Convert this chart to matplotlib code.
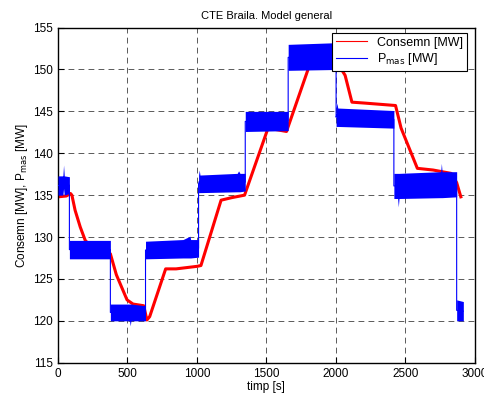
import matplotlib.pyplot as plt
import numpy as np

# P_mas envelope: time [s], lower and upper edge of the noisy band [MW]
pmas_t = [0, 35, 40, 45, 82,
          82, 377,
          377, 515, 520, 525, 630,
          630, 900, 950, 955, 1012,
          1012, 1017, 1022, 1290, 1300, 1310, 1348,
          1348, 1657,
          1657, 2002,
          2002, 2008, 2014, 2418,
          2418, 2445, 2450, 2455, 2755, 2760, 2765, 2870,
          2870, 2918]
pmas_lo = [135.0, 135.0, 135.8, 135.0, 135.2,
           127.4, 127.4,
           120.0, 120.0, 119.4, 120.0, 120.0,
           127.4, 127.5, 127.5, 127.5, 127.6,
           135.3, 135.3, 135.3, 135.4, 135.4, 135.4, 135.5,
           142.6, 142.7,
           149.9, 150.0,
           143.2, 143.2, 143.2, 143.0,
           134.6, 134.6, 133.6, 134.6, 134.7, 134.7, 134.7, 134.8,
           120.0, 120.0]
pmas_hi = [137.3, 137.3, 138.6, 137.3, 137.2,
           129.6, 129.6,
           122.0, 122.0, 122.0, 122.0, 121.8,
           129.5, 129.7, 130.1, 129.7, 129.7,
           137.4, 138.0, 137.4, 137.6, 137.9, 137.6, 137.6,
           145.0, 145.0,
           153.0, 153.2,
           145.4, 146.0, 145.4, 145.1,
           137.6, 137.6, 137.6, 137.6, 137.8, 138.8, 137.8, 137.8,
           122.5, 122.3]

# Consemn: time [s], value [MW]
cons_t = [0, 60, 90, 100, 123, 160, 196, 230, 270, 330, 377, 420, 497, 540, 617, 640,
          660, 775, 850, 1000, 1029, 1174, 1250, 1343, 1512, 1645, 1802, 1862, 2000,
          2030, 2067, 2116, 2200, 2430, 2470, 2587, 2700, 2830, 2870, 2900]
cons_v = [134.8, 134.9, 135.2, 135.0, 133.2, 131.2, 129.6, 129.0, 129.0, 128.2, 128.0,
          125.5, 122.5, 122.0, 121.8, 120.1, 120.5, 126.2, 126.2, 126.5, 126.6, 134.4,
          134.7, 135.0, 143.0, 142.6, 150.1, 150.5, 151.0, 150.3, 149.3, 146.1, 146.0,
          145.7, 143.0, 138.2, 138.0, 137.6, 136.5, 134.8]

plt.rcParams['font.family'] = ['Liberation Sans', 'DejaVu Sans']
plt.rcParams['font.size'] = 8.5

fig = plt.figure(figsize=(4.85, 4.03), dpi=100)
ax = fig.add_axes([0.1196, 0.1, 0.8592, 0.8315])

ax.plot(cons_t, cons_v, color='#ff0000', lw=2.2, zorder=2)
pmas_lo = np.array(pmas_lo)
pmas_hi = np.array(pmas_hi)
ax.fill_between(pmas_t, pmas_lo, pmas_hi, color='#0000ff', lw=0, zorder=3)
ax.plot(pmas_t, (pmas_lo + pmas_hi) / 2, color='#0000ff', lw=0.8, zorder=3)

# legend handles
h1, = ax.plot([], [], color='#ff0000', lw=0.8, label='Consemn [MW]')
h2, = ax.plot([], [], color='#0000ff', lw=0.8, label='P$_{\\mathrm{mas}}$ [MW]')
leg = ax.legend(handles=[h1, h2], loc='upper right', bbox_to_anchor=(0.982, 0.984),
                borderaxespad=0, fancybox=False, framealpha=1, edgecolor='black',
                borderpad=0.3, handlelength=2.5, labelspacing=0.2, fontsize=9)
leg.get_frame().set_linewidth(0.8)
leg.set_zorder(5)

ax.set_xlim(0, 3000)
ax.set_ylim(115, 155)
ax.set_xticks(np.arange(0, 3001, 500))
ax.set_yticks(np.arange(115, 156, 5))
ax.grid(True, color='black', linestyle=(0, (7, 5)), linewidth=0.6, alpha=0.75)
ax.tick_params(direction='in', length=4, width=0.8, labelsize=8.5)
for s in ax.spines.values():
    s.set_linewidth(1.0)

ax.set_title('CTE Braila. Model general', fontsize=8)
ax.set_xlabel('timp [s]', labelpad=1)
ax.set_ylabel('Consemn [MW], P$_{\\mathrm{mas}}$ [MW]', labelpad=2)

fig.savefig('out.png', dpi=100)
